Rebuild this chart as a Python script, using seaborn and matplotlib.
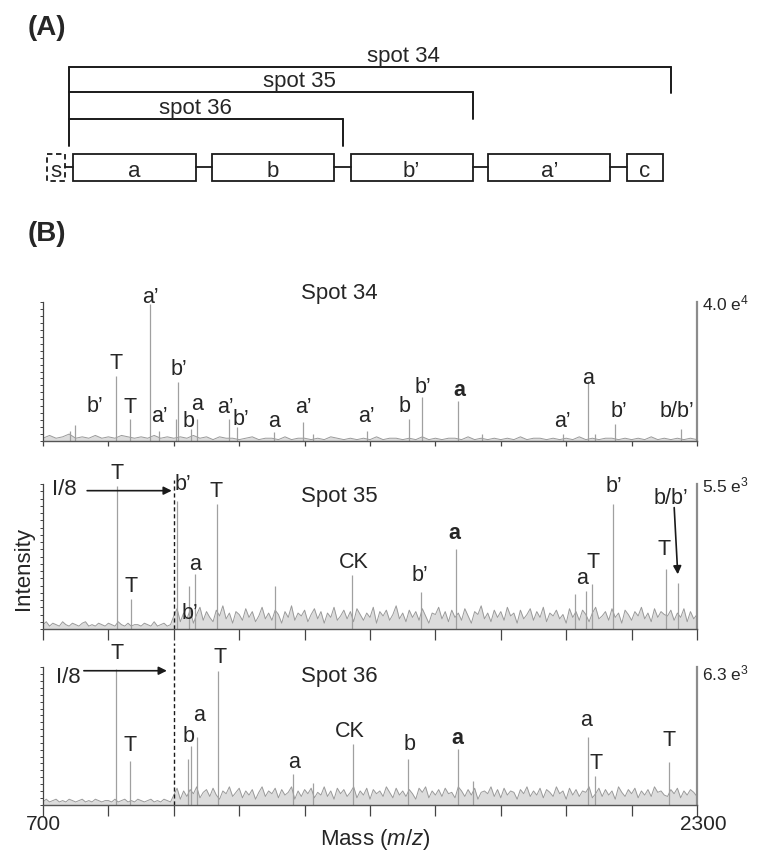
import numpy as np
import pandas as pd
import seaborn as sns
import matplotlib.pyplot as plt
import matplotlib.transforms as mtransforms
from matplotlib.patches import Rectangle


sns.set_theme(style="white")
plt.rcParams['font.family'] = ['Liberation Sans', 'DejaVu Sans']
plt.rcParams['mathtext.fontset'] = 'custom'
plt.rcParams['mathtext.rm'] = 'Liberation Sans'
plt.rcParams['mathtext.it'] = 'Liberation Sans:italic'

# ---------------- panel A: domain map (residue numbers)
domain_names = ['s', 'a', 'b', 'b’', 'a’', 'c']
domain_start = [0, 21, 135, 249, 362, 476]
domain_end = [15, 122, 235, 349, 462, 505]
spot_names = ['spot 34', 'spot 35', 'spot 36']
spot_first = 18
spot_last = [512, 349, 243]

# ---------------- panel B: MALDI spectra
mass_range = [700, 2300]
scaled_until = 1020          # left of this the intensity is shown as I/8
panel_titles = ['Spot 34', 'Spot 35', 'Spot 36']
full_scale = [40000, 5500, 6300]
full_scale_text = [r'4.0 e$\mathregular{^4}$', r'5.5 e$\mathregular{^3}$', r'6.3 e$\mathregular{^3}$']

mz_34 = [766, 778, 878, 913, 962, 984, 1025, 1030, 1062, 1076, 1154, 1174, 1265, 1335, 1361,
         1492, 1595, 1627, 1715, 1773, 1971, 2034, 2050, 2099, 2261]
int_34 = [3000, 4600, 18800, 6300, 39400, 3000, 6400, 16900, 3400, 6300, 6300, 4000, 2600, 5400, 2000,
          3000, 6300, 12600, 11600, 2000, 2000, 17400, 2000, 4900, 3400]
lab_34 = ['', 'b’', 'T', 'T', 'a’', 'a’', '', 'b’', 'b', 'a', 'a’', 'b’', 'a', 'a’', '',
          'a’', 'b', 'b’', 'a', '', 'a’', 'a', '', 'b’', 'b/b’']

mz_35 = [880, 915, 1027, 1058, 1072, 1126, 1268, 1457, 1624, 1710, 2002, 2028, 2044, 2094, 2224, 2254]
int_35 = [5430, 1140, 4870, 1650, 2090, 4740, 1650, 2040, 1390, 3030, 1320, 1450, 1700, 4740, 2280, 1760]
lab_35 = ['T', 'T', 'b’', 'b’', 'a', 'T', '', 'CK', 'b’', 'a', '', 'a', 'T', 'b’', 'T', 'b/b’']

mz_36 = [878, 913, 1055, 1061, 1076, 1129, 1311, 1360, 1459, 1594, 1715, 1753, 2034, 2050, 2231]
int_36 = [6220, 2020, 2080, 2710, 3090, 6140, 1390, 1010, 2770, 2080, 2550, 1070, 3090, 1320, 1950]
lab_36 = ['T', 'T', '', 'b', 'a', 'T', 'a', '', 'CK', 'b', 'a', '', 'a', 'T', 'T']

# baseline noise, % of full scale
# spot 34: one value every 16 m/z from 700 to 2300 (101 values)
noise_34 = [2, 4, 2, 3, 5, 2, 3, 2, 4, 2, 3, 2, 4, 3, 2, 3, 2, 4, 2, 3,
            2, 3, 2, 4, 2, 3, 1, 3, 2, 2, 1, 2, 3, 1, 2, 2, 1, 3, 1, 2,
            2, 1, 2, 1, 3, 2, 1, 2, 1, 2, 1, 3, 1, 2, 2, 1, 2, 1, 3, 1,
            2, 1, 2, 2, 1, 3, 1, 2, 1, 2, 1, 2, 1, 3, 1, 2, 2, 1, 2, 1,
            2, 1, 3, 1, 2, 1, 2, 2, 1, 2, 1, 2, 1, 3, 1, 2, 1, 2, 1, 2, 1]
# spots 35 and 36: one value every 8 m/z from 700 to 2300 (201 values)
noise_35 = [3, 5, 2, 4, 3, 2, 5, 3, 2, 4, 3, 2, 4, 5, 2, 3, 2, 4, 3, 2,
            4, 3, 2, 5, 3, 2, 4, 2, 3, 3, 2, 4, 3, 2, 5, 2, 3, 4, 2, 3,
            9, 14, 5, 11, 7, 13, 4, 10, 15, 6, 12, 8, 5, 13, 9, 16, 7, 11, 4, 12,
            10, 6, 14, 8, 12, 5, 9, 15, 7, 11, 6, 13, 10, 4, 12, 8, 16, 6, 11, 9,
            13, 5, 10, 14, 7, 12, 4, 11, 8, 15, 6, 9, 13, 7, 12, 5, 14, 10, 6, 11,
            8, 15, 4, 12, 9, 13, 6, 10, 16, 7, 11, 5, 13, 8, 12, 6, 14, 9, 4, 11,
            10, 15, 7, 12, 5, 13, 8, 11, 6, 14, 9, 4, 12, 10, 16, 7, 11, 5, 13, 8,
            12, 6, 15, 9, 11, 4, 13, 7, 10, 14, 6, 12, 8, 15, 5, 11, 9, 13, 7, 10,
            4, 14, 8, 12, 6, 13, 10, 5, 11, 15, 7, 9, 12, 6, 14, 8, 11, 4, 13, 10,
            6, 12, 9, 15, 7, 11, 5, 14, 8, 12, 10, 9, 13, 6, 11, 8, 14, 5, 12, 7, 10]
noise_36 = [2, 4, 2, 3, 4, 2, 3, 2, 4, 3, 2, 3, 4, 2, 3, 2, 4, 3, 2, 3,
            3, 2, 4, 2, 3, 4, 2, 3, 2, 4, 3, 2, 3, 4, 2, 3, 2, 4, 3, 2,
            7, 12, 4, 10, 6, 11, 8, 13, 5, 9, 11, 6, 12, 7, 4, 10, 8, 13, 6, 9,
            12, 5, 10, 7, 11, 4, 9, 13, 6, 10, 8, 12, 5, 11, 7, 9, 13, 4, 10, 6,
            11, 8, 12, 5, 9, 7, 13, 6, 10, 4, 12, 8, 11, 6, 9, 13, 5, 10, 7, 12,
            4, 11, 8, 10, 6, 13, 9, 5, 12, 7, 10, 6, 11, 8, 4, 12, 9, 13, 5, 10,
            7, 11, 6, 12, 8, 9, 5, 13, 10, 6, 11, 7, 12, 4, 9, 10, 8, 13, 6, 11,
            5, 12, 7, 10, 9, 4, 11, 8, 13, 6, 10, 7, 12, 5, 11, 9, 6, 13, 8, 10,
            4, 12, 7, 11, 6, 10, 9, 13, 5, 8, 12, 6, 11, 7, 10, 4, 13, 9, 6, 11,
            8, 12, 5, 10, 7, 11, 6, 13, 9, 10, 7, 6, 11, 8, 12, 5, 10, 7, 11, 9, 6]
noise_grid_coarse = np.arange(mass_range[0], mass_range[1] + 1, 16)
noise_grid_fine = np.arange(mass_range[0], mass_range[1] + 1, 8)

# label placement (pixels from the peak top: dx, baseline height)
offs_34 = {778: (20, 14), 878: (0, 8), 913: (0, 7), 962: (0, 2), 984: (0, 10), 1030: (1, 8),
           1062: (-2, 3), 1076: (0, 10), 1154: (-3, 7), 1174: (4, 3), 1265: (0, 6), 1335: (1, 10),
           1492: (0, 10), 1595: (-4, 8), 1627: (1, 5), 1715: (1, 6), 1971: (0, 8), 2034: (0, -2),
           2099: (4, 8), 2261: (-4, 13)}
offs_35 = {880: (0, 8), 915: (0, 8), 1027: (6, 12), 1058: (1, -33), 1072: (0, 5), 1126: (-1, 8),
           1457: (1, 8), 1624: (-1, 12), 1710: (-1, 11), 2028: (-4, 8), 2044: (1, 17),
           2094: (1, 13), 2224: (-2, 15), 2254: (-7, 80)}
offs_36 = {878: (1, 11), 913: (0, 11), 1061: (-2, 5), 1076: (2, 17), 1129: (2, 9), 1311: (1, 7),
           1459: (-3, 8), 1594: (1, 10), 1715: (-1, 6), 2034: (-2, 12), 2050: (1, 8), 2231: (0, 17)}
bold_peaks = [1715, 1710]

W, H = 760, 853
fig = plt.figure(figsize=(W / 100, H / 100), dpi=100)

fig.text(47 / W, 1 - 28 / H, '(A)', fontsize=20, fontweight='bold', ha='center', va='center')
fig.text(47 / W, 1 - 234 / H, '(B)', fontsize=20, fontweight='bold', ha='center', va='center')

# ---------------- panel A
axA = fig.add_axes([0, 1 - 200 / H, 1, 200 / H])
axA.set_xlim(-38.5, 584.7)
axA.set_ylim(200, 0)
axA.axis('off')
box_top, box_bot = 155, 181.7
box_mid = (box_top + box_bot) / 2
for name, s, e in zip(domain_names, domain_start, domain_end):
    axA.add_patch(Rectangle((s, box_top), e - s, box_bot - box_top, fill=False, ec='k', lw=1.3,
                            ls=(0, (3, 2)) if name == 's' else '-'))
    axA.text((s + e) / 2, box_bot - 4.5, name, ha='center', va='baseline', fontsize=16)
for e, s in zip(domain_end[:-1], domain_start[1:]):
    axA.plot([e, s], [box_mid, box_mid], color='k', lw=1.3)

bracket_y = [67.7, 93.3, 120]
spot_text_x = [292, 207, 122]
for name, last, y, tx in zip(spot_names, spot_last, bracket_y, spot_text_x):
    axA.plot([spot_first, last], [y, y], color='k', lw=1.4)
    axA.plot([last, last], [y, y + 26.5], color='k', lw=1.4)
    axA.text(tx, y - 6, name, ha='center', va='baseline', fontsize=16)
axA.plot([spot_first, spot_first], [bracket_y[0], 146.7], color='k', lw=1.4)

# ---------------- panel B
panels = [
    dict(mz=mz_34, inten=int_34, lab=lab_34, noise=noise_34, grid=noise_grid_coarse,
         offs=offs_34, top=303, bot=442, ticklen=3.5, title_y=1.027, scale_y=1.0),
    dict(mz=mz_35, inten=int_35, lab=lab_35, noise=noise_35, grid=noise_grid_fine,
         offs=offs_35, top=485, bot=630, ticklen=8, title_y=0.885, scale_y=1.0, dash_top=1.03,
         arrow_y=0.954, arrow_x=808, arrow_tip=1015, i8_x=753, i8_y=0.931),
    dict(mz=mz_36, inten=int_36, lab=lab_36, noise=noise_36, grid=noise_grid_fine,
         offs=offs_36, top=668.3, bot=805.7, ticklen=8, title_y=0.902, scale_y=0.96, dash_top=1.18,
         arrow_y=0.975, arrow_x=800, arrow_tip=1003, i8_x=761, i8_y=0.891),
]
spec_color = '#a0a0a0'

for k, p in enumerate(panels):
    ax = fig.add_axes([43 / W, (H - p['bot']) / H, 654 / W, (p['bot'] - p['top']) / H])
    full = full_scale[k]
    noise_df = pd.DataFrame({'mz': p['grid'], 'intensity': np.array(p['noise']) / 100 * full})
    ax.fill_between(noise_df['mz'], 0, noise_df['intensity'], color='#dcdcdc', lw=0)
    sns.lineplot(data=noise_df, x='mz', y='intensity', ax=ax, color='#9a9a9a', lw=0.7,
                 estimator=None)
    ax.vlines(p['mz'], 0, p['inten'], color=spec_color, lw=0.9)

    ax.set_xlim(mass_range)
    ax.set_ylim(0, full)
    ax.set_xlabel('')
    ax.set_ylabel('')
    ax.set_xticks(np.arange(mass_range[0], mass_range[1] + 1, 160))
    ax.set_yticks(np.linspace(0, full, 21))
    ax.set_xticklabels([])
    ax.set_yticklabels([])
    ax.tick_params(axis='x', bottom=True, direction='out', length=p['ticklen'], width=0.9,
                   color='#444444')
    ax.tick_params(axis='y', left=True, direction='out', length=2, width=0.7, color='#444444')
    ax.spines['top'].set_visible(False)
    ax.spines['left'].set_color('#444444')
    ax.spines['left'].set_linewidth(0.9)
    ax.spines['bottom'].set_color('#555555')
    ax.spines['bottom'].set_linewidth(1.0)
    ax.spines['right'].set_color('#8c8c8c')
    ax.spines['right'].set_linewidth(1.6)

    ax.text(1.008, p['scale_y'], full_scale_text[k], transform=ax.transAxes, ha='left',
            va='center', fontsize=12.5)
    trans = mtransforms.blended_transform_factory(ax.transData, ax.transAxes)
    ax.text(1425, p['title_y'], panel_titles[k], transform=trans, ha='center', va='baseline',
            fontsize=16)

    for m, h, t in zip(p['mz'], p['inten'], p['lab']):
        if not t:
            continue
        dx, dy = p['offs'].get(m, (0, 7))
        ax.annotate(t, xy=(m, h), xytext=(dx, dy), textcoords='offset pixels', ha='center',
                    va='baseline', fontsize=15.5,
                    fontweight='bold' if m in bold_peaks else 'normal')

    if 'dash_top' in p:
        ax.axvline(scaled_until, ymin=0, ymax=p['dash_top'], color='k', lw=1.0,
                   ls=(0, (3, 2)), clip_on=False)
        ax.annotate('', xy=(p['arrow_tip'], p['arrow_y']), xycoords=trans,
                    xytext=(p['arrow_x'], p['arrow_y']), textcoords=trans,
                    arrowprops=dict(arrowstyle='-|>', color='k', lw=1.2, shrinkA=0, shrinkB=0,
                                    mutation_scale=12))
        ax.text(p['i8_x'], p['i8_y'], 'I/8', transform=trans, ha='center', va='baseline',
                fontsize=16)
    if k == 1:
        ax.annotate('', xy=(2254, 1760), xytext=(-4, 75), textcoords='offset pixels',
                    arrowprops=dict(arrowstyle='-|>', color='k', lw=1.2, shrinkA=0, shrinkB=6,
                                    mutation_scale=12))
    if k == 2:
        ax.text(mass_range[0], -0.065, '700', transform=trans, ha='center', va='top', fontsize=15)
        ax.text(mass_range[1] + 15, -0.065, '2300', transform=trans, ha='center', va='top',
                fontsize=15)

fig.text(375 / W, 1 - 845 / H, r'Mass ($m/z$)', ha='center', va='baseline', fontsize=16)
fig.text(23 / W, 1 - 568 / H, 'Intensity', ha='center', va='center', rotation=90, fontsize=16)

fig.savefig('out.png', dpi=100)
